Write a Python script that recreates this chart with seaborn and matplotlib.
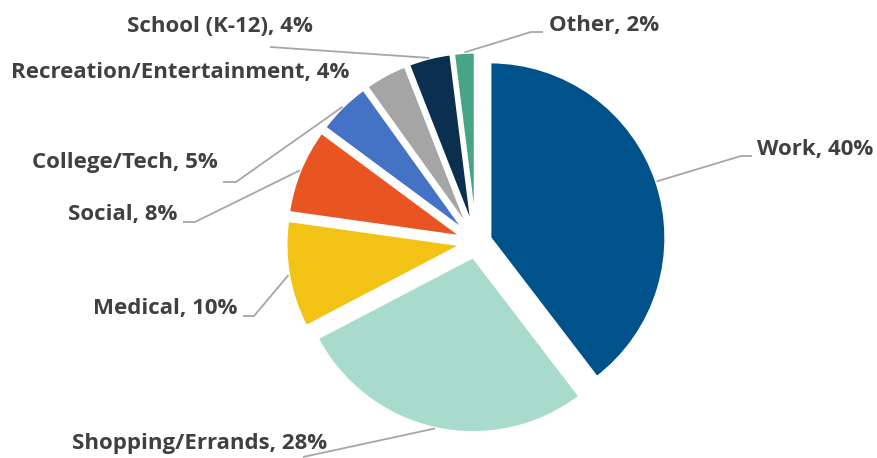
import matplotlib
matplotlib.use("Agg")
import matplotlib.pyplot as plt
import seaborn as sns
import numpy as np

# Trip purpose shares (percent)
categories = ["Work", "Shopping/Errands", "Medical", "Social", "College/Tech",
              "Recreation/Entertainment", "School (K-12)", "Other"]
shares = [40, 28, 10, 8, 5, 4, 4, 2]
colors = ["#00528A", "#A8DBCB", "#F2C314", "#E85523", "#4472C4",
          "#A5A5A5", "#0B2F4E", "#45A586"]

sns.set_theme(style="white")
plt.rcParams["font.family"] = ["Open Sans", "DejaVu Sans"]

W, H = 877, 458
fig = plt.figure(figsize=(W / 100, H / 100), dpi=100)
ax = fig.add_axes([0, 0, 1, 1])

# pie geometry in pixels, the axes use pie-radius units
R = 176.0
CX, CY = 476.2, 242.5


def px(x, y):
    return ((x - CX) / R, (CY - y) / R)


wedges, _ = ax.pie(shares, colors=colors, startangle=90, counterclock=False,
                   explode=[0.082] * len(shares), radius=1, center=(0, 0),
                   wedgeprops=dict(edgecolor="white", linewidth=2.2))

xa, ya = px(0, H)
xb, yb = px(W, 0)
ax.set_xlim(xa, xb)
ax.set_ylim(ya, yb)
ax.set_aspect("auto")
ax.axis("off")

# label placement: text anchor, alignment, leader path after the arc point
layout = {
    "Work": ((757, 149), "left", [(741, 156), (752, 156)]),
    "Shopping/Errands": ((327, 443), "right", [(303, 457)]),
    "Medical": ((237, 308), "right", [(254, 316), (243, 316)]),
    "Social": ((177, 214), "right", [(195, 222), (183, 222)]),
    "College/Tech": ((218, 162), "right", [(236, 182), (223, 182)]),
    "Recreation/Entertainment": ((349, 72), "right", None),
    "School (K-12)": ((313, 26), "right", [(270, 47)]),
    "Other": ((549, 25), "left", [(531, 32), (543, 32)]),
}

for w, cat, val in zip(wedges, categories, shares):
    (tx, ty), ha, path = layout[cat]
    if path:
        mid = np.deg2rad((w.theta1 + w.theta2) / 2)
        cx, cy = w.center
        start = (cx + w.r * np.cos(mid), cy + w.r * np.sin(mid))
        pts = [start] + [px(*p) for p in path]
        xs, ys = zip(*pts)
        ax.plot(xs, ys, color="#A6A6A6", lw=1.3, solid_capstyle="butt")
    ax.text(*px(tx, ty), f"{cat}, {val}%", ha=ha, va="center",
            fontsize=16, fontweight="bold", color="#404040")

fig.savefig("out.png", dpi=100)
